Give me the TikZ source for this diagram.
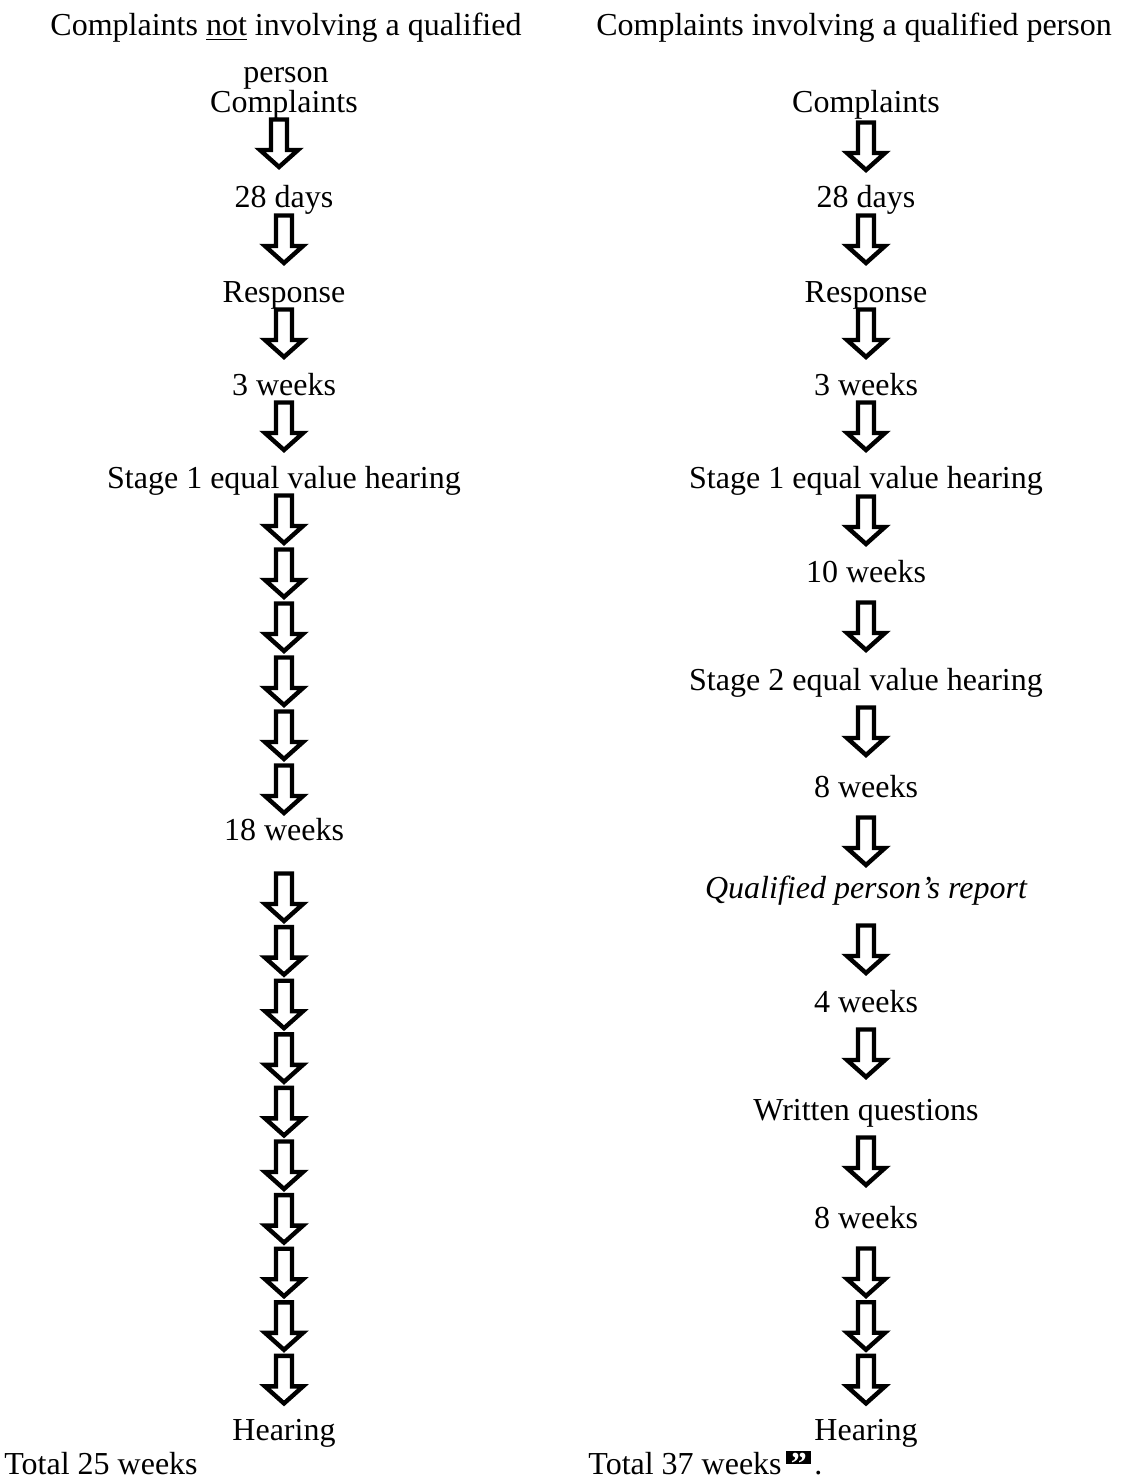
\documentclass[tikz,border=0pt]{standalone}
\usepackage{fontspec}
\setmainfont{Liberation Serif}
\begin{document}
\begin{tikzpicture}[x=0.5pt,y=-0.5pt,
  lbl/.style={anchor=base,inner sep=0pt,font=\fontsize{16}{19}\selectfont},
  lblw/.style={anchor=base west,inner sep=0pt,font=\fontsize{16}{19}\selectfont},
  blockarrow/.pic={\draw[line width=2.2pt,miter limit=10,fill=white]
      (-8,2.5) -- (8,2.5) -- (8,33) -- (19,33) -- (0,50) -- (-19,33) -- (-8,33) -- cycle;}]
\useasboundingbox (0,0) rectangle (1144,1482);
% headers
\node[lbl] (hl1) at (286,36) {Complaints \underline{not} involving a qualified};
\node[lbl] (hl2) at (286,83) {person};
\node[lbl] (hr) at (854,36) {Complaints involving a qualified person};
% left column
\node[lbl] (l1) at (284,113) {Complaints};
\node[lbl] (l2) at (284,208) {28 days};
\node[lbl] (l3) at (284,302) {Response};
\node[lbl] (l4) at (284,395) {3 weeks};
\node[lbl] (l5) at (284,488) {Stage 1 equal value hearing};
\node[lbl] (l6) at (284,840) {18 weeks};
\node[lbl] (l7) at (284,1440) {Hearing};
\node[lblw] (lt) at (4,1474) {Total 25 weeks};
\pic at (279,117) {blockarrow};
\pic at (284,213) {blockarrow};
\pic at (284,307) {blockarrow};
\pic at (284,400) {blockarrow};
\foreach \i in {0,...,5} {\pic at (284,493+54*\i) {blockarrow};}
\foreach \i in {0,...,9} {\pic at (284,871+53.6*\i) {blockarrow};}
% right column
\node[lbl] (r1) at (866,113) {Complaints};
\node[lbl] (r2) at (866,208) {28 days};
\node[lbl] (r3) at (866,302) {Response};
\node[lbl] (r4) at (866,395) {3 weeks};
\node[lbl] (r5) at (866,488) {Stage 1 equal value hearing};
\node[lbl] (r6) at (866,582) {10 weeks};
\node[lbl] (r7) at (866,690) {Stage 2 equal value hearing};
\node[lbl] (r8) at (866,797) {8 weeks};
\node[lbl] (r9) at (866,898) {\itshape Qualified person’s report};
\node[lbl] (r10) at (866,1012) {4 weeks};
\node[lbl] (r11) at (866,1120) {Written questions};
\node[lbl] (r12) at (866,1228) {8 weeks};
\node[lbl] (r13) at (866,1440) {Hearing};
\node[lblw] (rt) at (588,1474) {Total 37 weeks};
\node[fill=black,text=white,inner sep=0pt,minimum width=12.5pt,minimum height=6.5pt,anchor=west,font=\fontsize{16}{19}\selectfont\bfseries] (q) at ([xshift=2pt]rt.east |- 0,1457) {\raisebox{-1.2ex}[0pt][0pt]{”}};
\node[lblw] (dot) at ([xshift=1pt]q.east |- rt.base) {.};
\pic at (866,120) {blockarrow};
\pic at (866,213) {blockarrow};
\pic at (866,307) {blockarrow};
\pic at (866,400) {blockarrow};
\pic at (866,494) {blockarrow};
\pic at (866,600) {blockarrow};
\pic at (866,705) {blockarrow};
\pic at (866,815) {blockarrow};
\pic at (866,923) {blockarrow};
\pic at (866,1027) {blockarrow};
\pic at (866,1135) {blockarrow};
\foreach \i in {0,...,2} {\pic at (866,1246+53.7*\i) {blockarrow};}
\end{tikzpicture}
\end{document}
